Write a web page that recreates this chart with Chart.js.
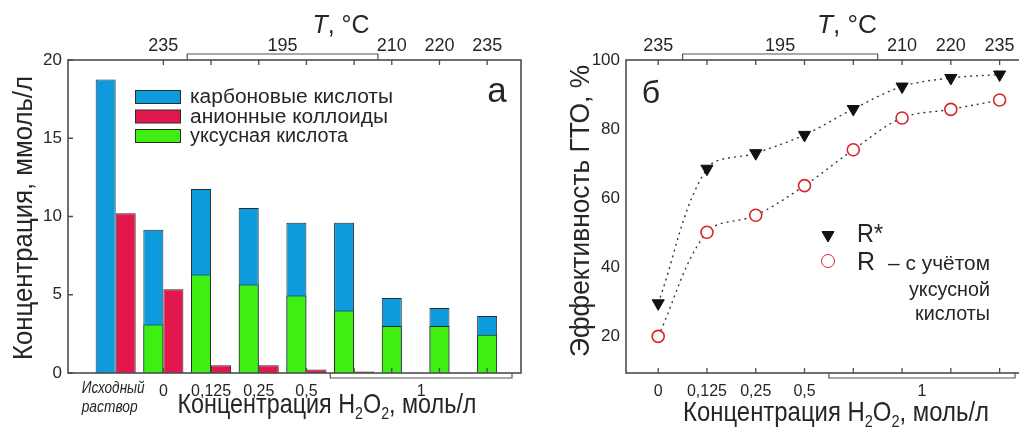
<!DOCTYPE html>
<html>
<head>
<meta charset="utf-8">
<script src="https://cdn.jsdelivr.net/npm/chart.js@4.4.0/dist/chart.umd.min.js"></script>
<style>
  html, body { margin: 0; padding: 0; background: #fff; }
  body { width: 1019px; height: 432px; overflow: hidden; position: relative; }
  #wrapA { position: absolute; left: 0; top: 0; width: 530px; height: 432px; }
  #wrapB { position: absolute; left: 520px; top: 0; width: 540px; height: 432px; }
</style>
</head>
<body>
<div id="wrapA"><canvas id="chartA" width="530" height="432"></canvas></div>
<div id="wrapB"><canvas id="chartB" width="540" height="432"></canvas></div>
<script>
// panel "а" - concentrations after treatment, mmol/l
const groups = ['Исходный\nраствор', '0', '0,125', '0,25', '0,5', '1', '1', '1', '1'];
const groupTemps = ['', '235', '195', '195', '195', '195', '210', '220', '235'];
const carboxylic = [18.75, 9.15, 11.75, 10.55, 9.6, 9.6, 4.8, 4.15, 3.65];
const colloids = [10.2, 5.35, 0.5, 0.5, 0.22, 0.1, null, null, null];
const acetic = [null, 3.1, 6.3, 5.65, 4.95, 4.0, 3.0, 3.0, 2.45];
const concTicks = [0, 5, 10, 15, 20];

// panel "б" - treatment efficiency, %
const doses = ['0', '0,125', '0,25', '0,5', '1', '1', '1', '1'];
const doseTemps = ['235', '195', '195', '195', '195', '210', '220', '235'];
const effRstar = [29.5, 68.5, 73, 78.3, 85.8, 92.3, 94.8, 95.8];
const effR = [19.9, 50.1, 55, 63.6, 74, 83.2, 85.7, 88.4];
const effTicks = [20, 40, 60, 80, 100];

const FONT = '"Liberation Sans", Arial, sans-serif';
const INK = '#262626';
const AXIS = '#4d4d4d';
const BLUE = '#0d9bde';
const RED = '#e2184d';
const GREEN = '#40ef12';

function text(ctx, str, x, y, o) {
  ctx.save();
  ctx.font = (o.italic ? 'italic ' : '') + o.size + 'px ' + FONT;
  ctx.textBaseline = o.base || 'alphabetic';
  ctx.fillStyle = o.color || INK;
  const w = ctx.measureText(str).width;
  const sx = o.width ? o.width / w : 1;
  const fw = w * sx;
  const left = o.align === 'left' ? x : o.align === 'right' ? x - fw : x - fw / 2;
  ctx.translate(left, y);
  ctx.scale(sx, 1);
  ctx.textAlign = 'left';
  ctx.fillText(str, 0, 0);
  ctx.restore();
}

// text with subscripts, parts = [[str, isSub], ...]
function subText(ctx, parts, cx, y, size, width) {
  const big = size + 'px ' + FONT;
  const small = Math.round(size * 0.62) + 'px ' + FONT;
  let w = 0;
  parts.forEach(p => { ctx.font = p[1] ? small : big; w += ctx.measureText(p[0]).width; });
  const sx = width / w;
  ctx.save();
  ctx.fillStyle = INK;
  ctx.textAlign = 'left';
  ctx.textBaseline = 'alphabetic';
  ctx.translate(cx - width / 2, y);
  ctx.scale(sx, 1);
  let x = 0;
  parts.forEach(p => {
    ctx.font = p[1] ? small : big;
    ctx.fillText(p[0], x, p[1] ? size * 0.22 : 0);
    x += ctx.measureText(p[0]).width;
  });
  ctx.restore();
}

function tTitle(ctx, cx, y, width) {
  ctx.save();
  ctx.font = 'italic 25px ' + FONT;
  const w1 = ctx.measureText('T').width;
  ctx.font = '25px ' + FONT;
  const w2 = ctx.measureText(', °C').width;
  const sx = width / (w1 + w2);
  ctx.fillStyle = INK;
  ctx.textBaseline = 'alphabetic';
  ctx.textAlign = 'left';
  ctx.translate(cx - width / 2, y);
  ctx.scale(sx, 1);
  ctx.font = 'italic 25px ' + FONT;
  ctx.fillText('T', 0, 0);
  ctx.font = '25px ' + FONT;
  ctx.fillText(', °C', w1, 0);
  ctx.restore();
}

function rotTitle(ctx, str, x, cy, size, width) {
  ctx.save();
  ctx.translate(x, cy);
  ctx.rotate(-Math.PI / 2);
  text(ctx, str, 0, 0, { size: size, width: width });
  ctx.restore();
}

function runs(labels) {
  const out = [];
  labels.forEach((t, i) => {
    const last = out[out.length - 1];
    if (last && last.text === t) last.end = i;
    else out.push({ text: t, start: i, end: i });
  });
  return out;
}

function bracket(ctx, x0, x1, yLine, yAxis) {
  ctx.save();
  ctx.strokeStyle = '#555';
  ctx.lineWidth = 1.2;
  ctx.beginPath();
  ctx.moveTo(x0, yAxis);
  ctx.lineTo(x0, yLine);
  ctx.lineTo(x1, yLine);
  ctx.lineTo(x1, yAxis);
  ctx.stroke();
  ctx.restore();
}

// temperature row on top and dose row at the bottom; runs of equal labels get a bracket
function drawRow(ctx, chart, labels, tickX, top) {
  const a = chart.chartArea;
  const xs = chart.scales.x;
  const size = top ? 18 : 16;
  runs(labels).forEach(r => {
    if (!r.text) return;
    const yText = top ? a.top - 9 : a.bottom + 23;
    if (r.start === r.end) {
      if (r.text.indexOf('\n') >= 0) {
        const lines = r.text.split('\n');
        const left = tickX(r.start) - 34;
        text(ctx, lines[0], left, a.bottom + 20, { size: 16, italic: true, align: 'left', width: 63 });
        text(ctx, lines[1], left, a.bottom + 39, { size: 16, italic: true, align: 'left', width: 56 });
      } else {
        text(ctx, r.text, tickX(r.start), yText, { size: size });
      }
      return;
    }
    const x0 = xs.getPixelForValue(r.start - 0.5);
    const x1 = Math.min(xs.getPixelForValue(r.end + 0.5), a.right - 9);
    if (top) bracket(ctx, x0, x1, a.top - 6, a.top);
    else bracket(ctx, x0, x1, a.bottom + 5, a.bottom);
    text(ctx, r.text, (x0 + x1) / 2, yText, { size: size });
  });
}

function drawTicks(ctx, chart, idx, tickX) {
  const a = chart.chartArea;
  ctx.save();
  ctx.strokeStyle = AXIS;
  ctx.lineWidth = 1.3;
  ctx.beginPath();
  idx.forEach(i => {
    const x = tickX(i);
    ctx.moveTo(x, a.top); ctx.lineTo(x, a.top + 5);
    ctx.moveTo(x, a.bottom); ctx.lineTo(x, a.bottom - 5);
  });
  ctx.stroke();
  ctx.restore();
}

function drawBox(ctx, a) {
  ctx.save();
  ctx.strokeStyle = AXIS;
  ctx.lineWidth = 1.6;
  ctx.strokeRect(a.left, a.top, a.right - a.left, a.bottom - a.top);
  ctx.restore();
}

const frameA = {
  id: 'frameA',
  afterDraw(chart) {
    const { ctx, chartArea: a, scales: { x, y } } = chart;
    const acidBars = chart.getDatasetMeta(0).data;
    // single bar groups carry the tick on the bar itself
    const tickX = i => colloids[i] == null ? acidBars[i].x : x.getPixelForValue(i);

    drawBox(ctx, a);
    const idx = groupTemps.map((t, i) => i).filter(i => groupTemps[i] !== '');
    drawTicks(ctx, chart, idx, tickX);

    ctx.save();
    ctx.strokeStyle = AXIS;
    ctx.lineWidth = 1.3;
    ctx.beginPath();
    concTicks.forEach(v => {
      const py = y.getPixelForValue(v);
      ctx.moveTo(a.left, py); ctx.lineTo(a.left + 5, py);
    });
    ctx.stroke();
    ctx.restore();
    concTicks.forEach(v => {
      text(ctx, String(v), a.left - 6, y.getPixelForValue(v), { size: 17, align: 'right', base: 'middle' });
    });

    drawRow(ctx, chart, groupTemps, tickX, true);
    drawRow(ctx, chart, groups, tickX, false);

    tTitle(ctx, 341, 33, 57);
    subText(ctx, [['Концентрация H', false], ['2', true], ['O', false], ['2', true], [', моль/л', false]], 327, 413, 28, 299);
    rotTitle(ctx, 'Концентрация, ммоль/л', 32, 218, 27, 284);
    text(ctx, 'а', 497, 102, { size: 35 });

    // legend
    const rows = [0, 1, 2];
    rows.forEach(k => {
      const ds = chart.data.datasets[k];
      const top = 90 + k * 19.5;
      ctx.save();
      ctx.fillStyle = ds.backgroundColor;
      ctx.strokeStyle = '#2b2b2b';
      ctx.lineWidth = 1;
      ctx.fillRect(135.5, top + 0.5, 45, 13);
      ctx.strokeRect(135.5, top + 0.5, 45, 13);
      ctx.restore();
    });
    text(ctx, chart.data.datasets[0].label, 190, 103, { size: 20, align: 'left', width: 203 });
    text(ctx, chart.data.datasets[1].label, 190, 122.5, { size: 20, align: 'left', width: 198 });
    text(ctx, chart.data.datasets[2].label, 190, 142, { size: 20, align: 'left', width: 158 });
  }
};

const frameB = {
  id: 'frameB',
  afterDraw(chart) {
    const { ctx, chartArea: a, scales: { x, y } } = chart;
    const tickX = i => x.getPixelForValue(i);

    drawBox(ctx, a);
    drawTicks(ctx, chart, doses.map((d, i) => i), tickX);
    effTicks.forEach(v => {
      text(ctx, String(v), a.left - 6, y.getPixelForValue(v), { size: 17, align: 'right', base: 'middle' });
    });

    drawRow(ctx, chart, doseTemps, tickX, true);
    drawRow(ctx, chart, doses, tickX, false);

    tTitle(ctx, 327, 33, 60);
    subText(ctx, [['Концентрация H', false], ['2', true], ['O', false], ['2', true], [', моль/л', false]], 316, 421, 28, 306);
    rotTitle(ctx, 'Эффективность ГТО, %', 69, 211, 27, 292);
    text(ctx, 'б', 131, 103, { size: 32 });

    // legend
    const d0 = chart.data.datasets[0];
    const d1 = chart.data.datasets[1];
    ctx.save();
    ctx.fillStyle = d0.pointBackgroundColor;
    ctx.strokeStyle = d0.pointBorderColor;
    Chart.helpers.drawPoint(ctx, { pointStyle: 'triangle', radius: 7, rotation: 180, borderWidth: 1 }, 308, 235);
    ctx.fillStyle = d1.pointBackgroundColor;
    ctx.strokeStyle = d1.pointBorderColor;
    Chart.helpers.drawPoint(ctx, { pointStyle: 'circle', radius: 6.5, borderWidth: 1.6 }, 308, 261);
    ctx.restore();
    text(ctx, d0.label, 337, 242, { size: 25, align: 'left', width: 26 });
    text(ctx, d1.label, 337, 270, { size: 25, align: 'left' });
    text(ctx, '– с учётом', 470, 270, { size: 21, align: 'right', width: 102 });
    text(ctx, 'уксусной', 470, 296, { size: 21, align: 'right', width: 81 });
    text(ctx, 'кислоты', 470, 320, { size: 21, align: 'right', width: 75 });
  }
};

const xy = arr => arr.map((v, i) => ({ x: i, y: v }));

new Chart(document.getElementById('chartA'), {
  type: 'bar',
  data: {
    datasets: [
      { label: 'карбоновые кислоты', data: xy(carboxylic), backgroundColor: BLUE, stack: 'acids', order: 1 },
      { label: 'анионные коллоиды', data: xy(colloids), backgroundColor: RED, stack: 'colloids', order: 2 },
      { label: 'уксусная кислота', data: xy(acetic), backgroundColor: GREEN, stack: 'acids', order: 0 }
    ]
  },
  options: {
    responsive: false,
    animation: false,
    events: [],
    layout: { padding: { left: 68, top: 60, right: 9, bottom: 59 } },
    datasets: { bar: { borderColor: '#2b2b2b', borderWidth: 1, barPercentage: 1, categoryPercentage: 0.84 } },
    scales: {
      x: {
        type: 'linear', display: false, offset: false, min: -1, max: 8.5,
        afterBuildTicks: s => { s.ticks = groups.map((g, i) => ({ value: i })); }
      },
      y: { display: false, min: 0, max: 20, stacked: false }
    },
    plugins: { legend: { display: false }, tooltip: { enabled: false } }
  },
  plugins: [frameA]
});

new Chart(document.getElementById('chartB'), {
  type: 'line',
  data: {
    datasets: [
      {
        label: 'R*', data: xy(effRstar),
        borderColor: '#3a3a3a', borderWidth: 1.4, borderDash: [2, 4], tension: 0.35,
        pointStyle: 'triangle', pointRotation: 180, pointRadius: 7,
        pointBackgroundColor: '#111', pointBorderColor: '#111', pointBorderWidth: 1
      },
      {
        label: 'R', data: xy(effR),
        borderColor: '#3a3a3a', borderWidth: 1.4, borderDash: [2, 4], tension: 0.35,
        pointStyle: 'circle', pointRadius: 6,
        pointBackgroundColor: '#fff', pointBorderColor: '#d8262e', pointBorderWidth: 1.6
      }
    ]
  },
  options: {
    responsive: false,
    animation: false,
    events: [],
    layout: { padding: { left: 106, top: 60, right: 36, bottom: 59 } },
    scales: {
      x: { type: 'linear', display: false, min: -0.66, max: 7.5 },
      y: { display: false, min: 9.3, max: 100 }
    },
    plugins: { legend: { display: false }, tooltip: { enabled: false } }
  },
  plugins: [frameB]
});
</script>
</body>
</html>
